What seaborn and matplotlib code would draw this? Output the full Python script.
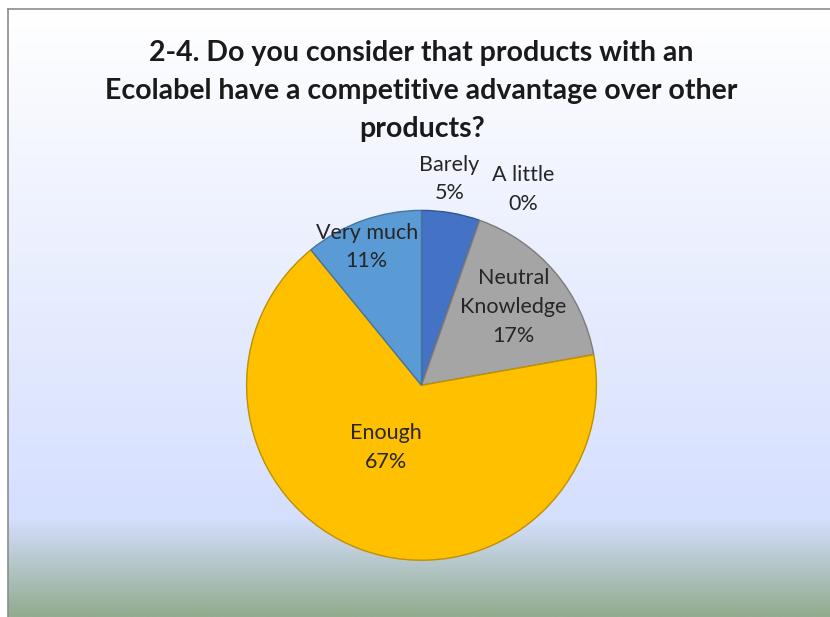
import numpy as np
import seaborn as sns
import matplotlib.pyplot as plt
from matplotlib.colors import LinearSegmentedColormap, to_rgb

# survey answers, clockwise from 12 o'clock
categories = ["Barely", "A little", "Neutral\nKnowledge", "Enough", "Very much"]
shares = [5.4, 0.0, 16.8, 66.9, 10.9]
title = "2-4. Do you consider that products with an\nEcolabel have a competitive advantage over other\nproducts?"

slice_colors = ["#4472C4", "#ED7D31", "#A5A5A5", "#FFC000", "#5B9BD5"]
# label placement: radius factor and angular nudge (deg, math direction) from each wedge's mid-angle
label_radius = [1.19, 1.26, 0.69, 0.41, 0.85]
label_nudge = [2, -8, 0, -9, 2]

sns.set_theme(style="white")
plt.rcParams["font.family"] = ["Lato", "DejaVu Sans"]

fig = plt.figure(figsize=(8.3, 6.17), dpi=100)
fig.patch.set_facecolor("white")

# gradient background inside the chart frame
bg = fig.add_axes([8 / 830, 0, 1 - 8 / 830, 1 - 9 / 617])
grad = LinearSegmentedColormap.from_list(
    "bg", [(0.0, "#FFFFFF"), (0.84, "#D5DFFE"), (1.0, "#92AC90")])
bg.imshow(np.linspace(0, 1, 300).reshape(-1, 1), aspect="auto", cmap=grad,
          extent=[0, 1, 0, 1], origin="upper")
bg.set_xticks([])
bg.set_yticks([])
for side in ["right", "bottom"]:
    bg.spines[side].set_visible(False)
for side in ["left", "top"]:
    bg.spines[side].set_color("#8C8C8C")
    bg.spines[side].set_linewidth(1.2)

fig.text(0.508, 0.853, title, ha="center", va="center", fontsize=20.5,
         fontweight="bold", color="#1A1A1A", linespacing=1.58)

ax = fig.add_axes([0.297, 0.092, 0.4217, 0.567])
ax.set_facecolor("none")
wedges, _ = ax.pie(shares, colors=slice_colors, startangle=90, counterclock=False,
                   radius=1.0, wedgeprops=dict(linewidth=1.0))
for w, c in zip(wedges, slice_colors):
    r, g, b = to_rgb(c)
    w.set_edgecolor((r * 0.75, g * 0.75, b * 0.75))
ax.set_xlim(-1.0, 1.0)
ax.set_ylim(-1.0, 1.0)
ax.set_aspect("equal")
ax.axis("off")

for w, name, val, rf, nudge in zip(wedges, categories, shares, label_radius, label_nudge):
    mid = np.deg2rad((w.theta1 + w.theta2) / 2 + nudge)
    ax.text(rf * np.cos(mid), rf * np.sin(mid), f"{name}\n{round(val):.0f}%",
            ha="center", va="center", fontsize=15.5, color="#262626",
            linespacing=1.55, clip_on=False)

fig.savefig("out.png", dpi=100)
